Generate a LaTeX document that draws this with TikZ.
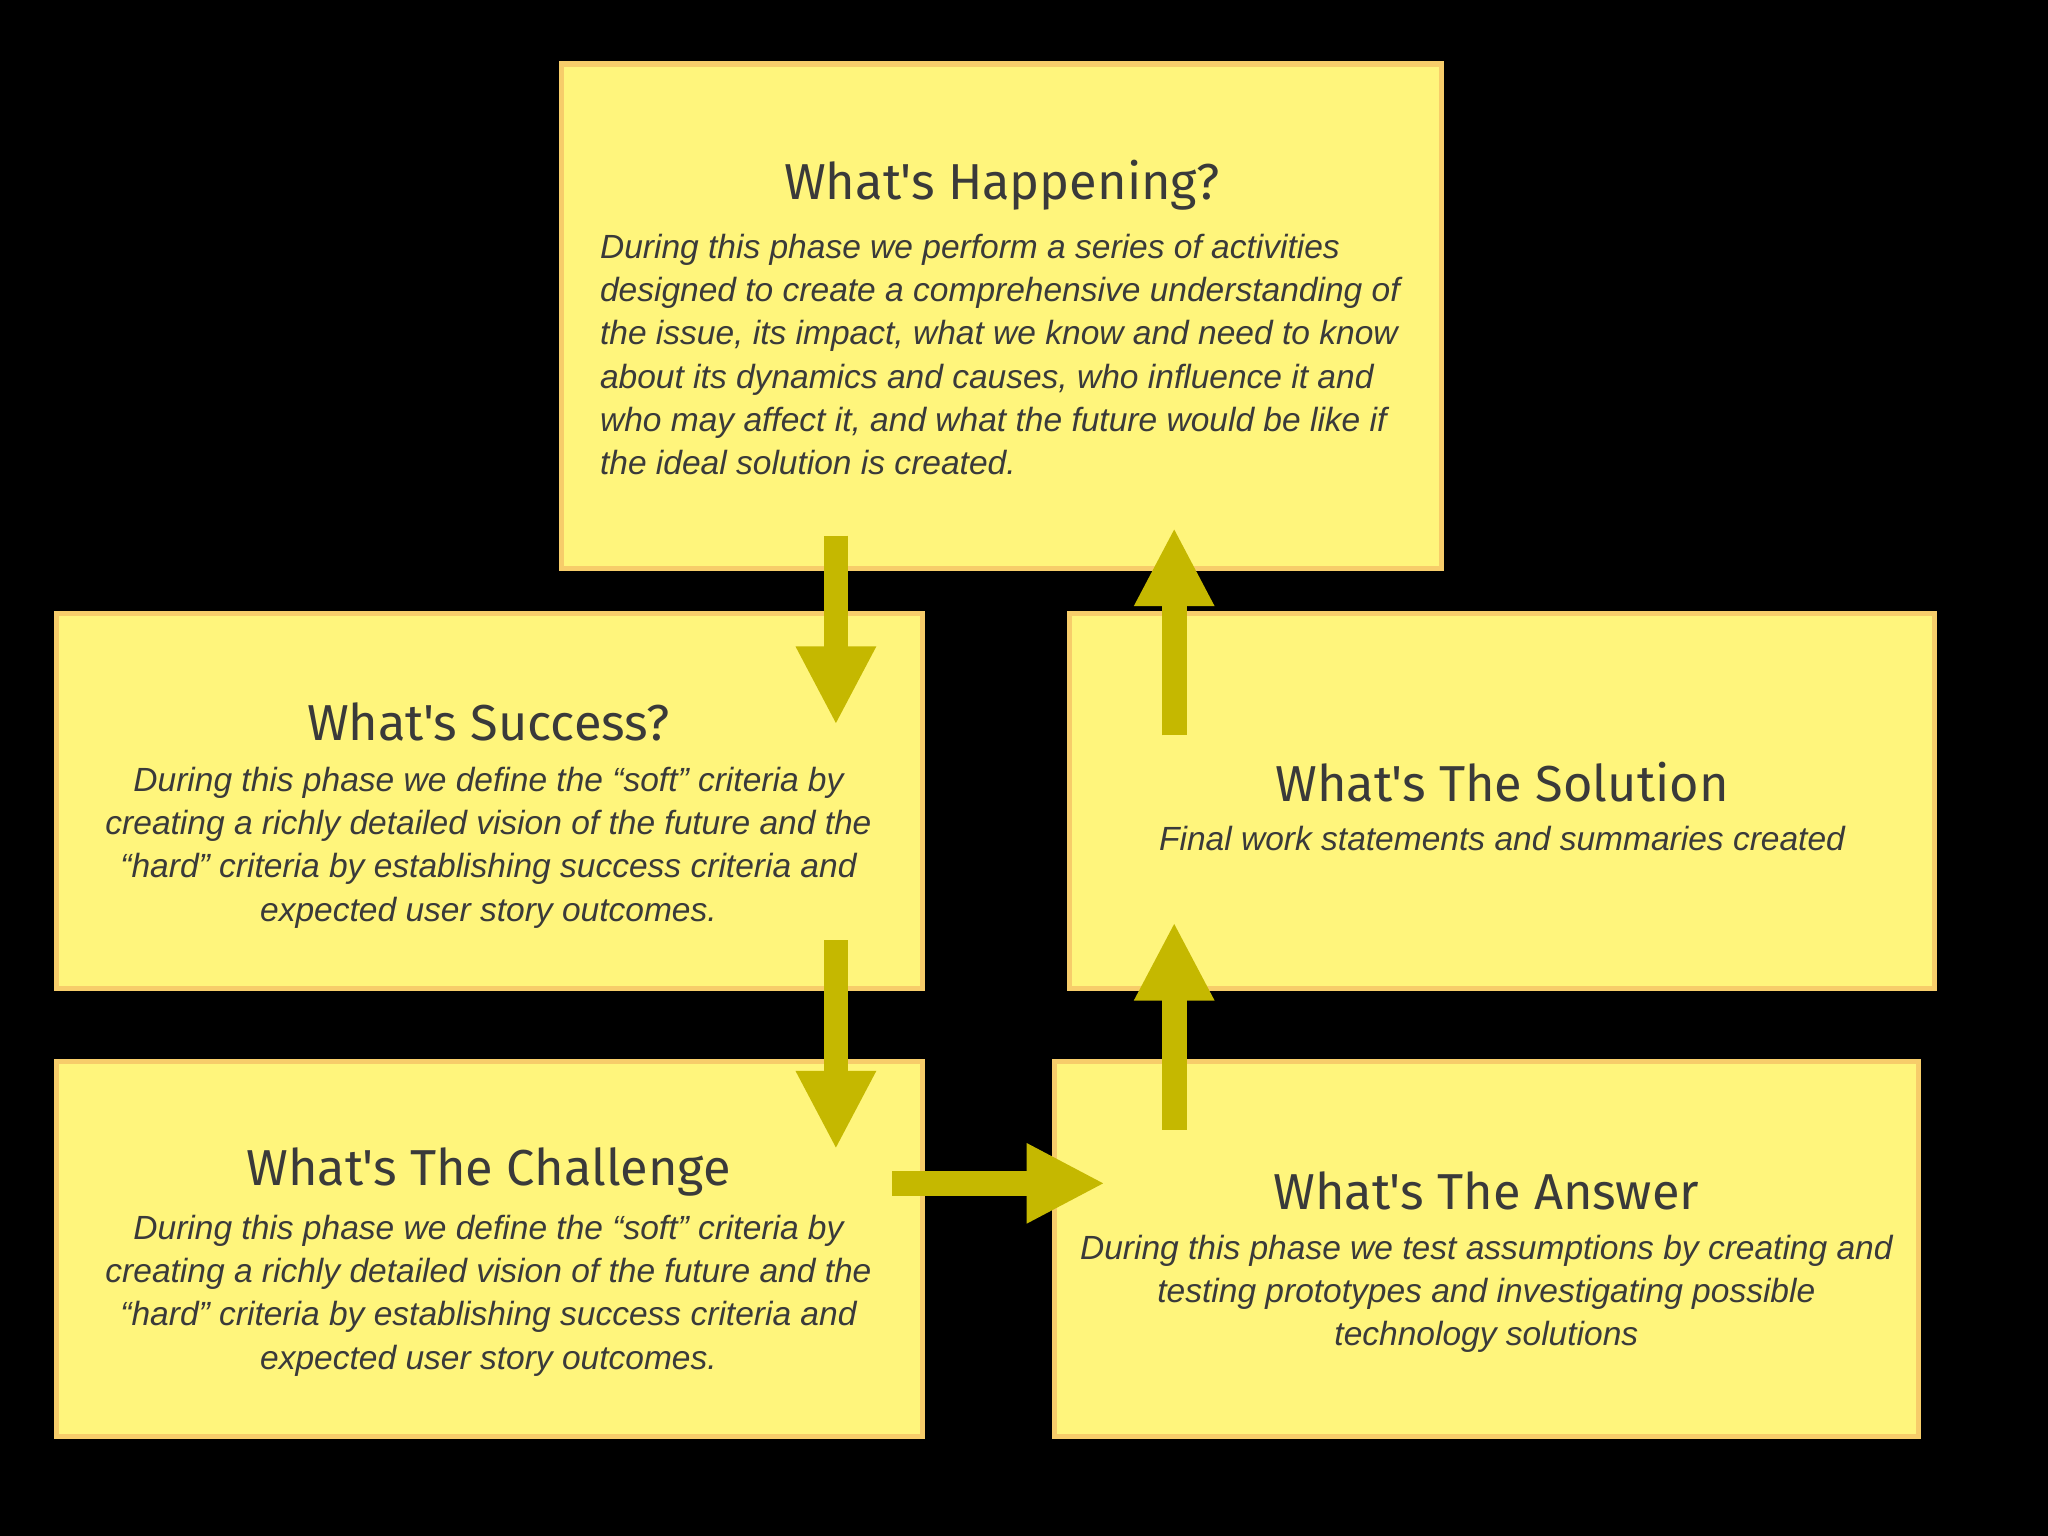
\documentclass[tikz,border=0pt]{standalone}
\usepackage{fontspec}
\setmainfont{Liberation Sans}
\newfontfamily\titlefont{Fira Sans}
\usetikzlibrary{arrows.meta}
\definecolor{boxfill}{HTML}{FFF57C}
\definecolor{boxline}{HTML}{F7CD6A}
\definecolor{arr}{HTML}{C5B800}
\definecolor{txt}{HTML}{3A3A3A}
\tikzset{
  box/.style={draw=boxline,fill=boxfill,line width=1.1pt},
  ttl/.style={text=txt,font=\titlefont\fontsize{11}{13}\selectfont},
  bdy/.style={text=txt,font=\itshape\fontsize{7.3}{9.4}\selectfont,align=center},
  flow/.style={draw=arr,line width=5.4pt,-{Triangle[width=0.57cm,length=0.6cm]}}
}
\begin{document}
\begin{tikzpicture}[x=0.01cm,y=-0.01cm]
\fill[black] (0,0) rectangle (1568,1176);
\useasboundingbox (0,0) rectangle (1568,1176);
% boxes
\draw[box] (430,49) rectangle (1104,435);
\draw[box] (43,470) rectangle (706,757);
\draw[box] (819,470) rectangle (1481,757);
\draw[box] (43,813) rectangle (706,1100);
\draw[box] (807,813) rectangle (1469,1100);
% texts
\node[ttl] (t1) at (767,142) {What's Happening?};
\node[bdy,align=left,anchor=north west] (b1) at (447,167) {During this phase we perform a series of activities\\designed to create a comprehensive understanding of\\the issue, its impact, what we know and need to know\\about its dynamics and causes, who influence it and\\who may affect it, and what the future would be like if\\the ideal solution is created.};
\node[ttl] (t2) at (374,553) {What's Success?};
\node[bdy,anchor=north] (b2) at (374,575) {During this phase we define the “soft” criteria by\\creating a richly detailed vision of the future and the\\“hard” criteria by establishing success criteria and\\expected user story outcomes.};
\node[ttl] (t3) at (1150,599) {What's The Solution};
\node[bdy,anchor=north] (b3) at (1150,620) {Final work statements and summaries created};
\node[ttl] (t4) at (374,897) {What's The Challenge};
\node[bdy,anchor=north] (b4) at (374,918) {During this phase we define the “soft” criteria by\\creating a richly detailed vision of the future and the\\“hard” criteria by establishing success criteria and\\expected user story outcomes.};
\node[ttl] (t5) at (1138,912) {What's The Answer};
\node[bdy,anchor=north] (b5) at (1138,933) {During this phase we test assumptions by creating and\\testing prototypes and investigating possible\\technology solutions};
% arrows
\coordinate (a1s) at (640,410); \coordinate (a1e) at (640,555);
\coordinate (a2s) at (640,720); \coordinate (a2e) at (640,880);
\coordinate (a3s) at (683,906); \coordinate (a3e) at (846,906);
\coordinate (a4s) at (899,865); \coordinate (a4e) at (899,706);
\coordinate (a5s) at (899,563); \coordinate (a5e) at (899,404);
\draw[flow] (a1s) -- (a1e);
\draw[flow] (a2s) -- (a2e);
\draw[flow] (a3s) -- (a3e);
\draw[flow] (a4s) -- (a4e);
\draw[flow] (a5s) -- (a5e);
\end{tikzpicture}
\end{document}
